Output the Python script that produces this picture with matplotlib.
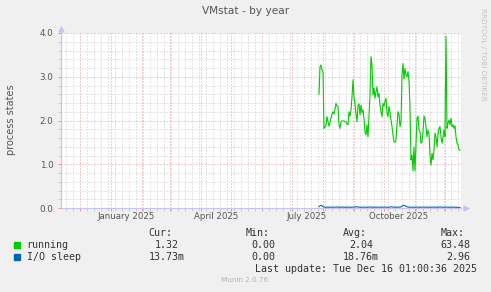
import matplotlib
matplotlib.use('Agg')
import matplotlib.pyplot as plt
import matplotlib.dates as mdates
from matplotlib.ticker import MultipleLocator, NullFormatter, FormatStrFormatter
from matplotlib.patches import Rectangle
import pandas as pd

W, H = 491, 292  # output size in px

# daily averages, first value on start_date
start_date = '2025-07-28'
running = [2.60, 3.23, 3.27, 3.15, 3.12, 1.82, 1.85, 1.90, 2.09, 1.97,
           1.87, 1.95, 2.05, 2.15, 2.20, 2.15, 2.25, 2.39, 2.33, 2.32,
           1.90, 1.82, 1.97, 1.99, 1.99, 1.99, 1.97, 1.97, 1.92, 1.90,
           2.20, 2.10, 2.24, 2.55, 2.93, 2.51, 2.39, 2.16, 1.97, 2.35,
           2.38, 2.13, 2.35, 2.18, 2.24, 2.05, 1.74, 1.67, 1.90, 1.63,
           2.13, 2.58, 3.46, 3.27, 2.58, 2.74, 2.51, 2.66, 2.77, 2.54,
           2.62, 2.35, 2.20, 2.09, 2.39, 2.33, 2.43, 2.51, 2.16, 2.09,
           2.32, 2.20, 2.01, 1.86, 1.67, 1.52, 1.50, 1.55, 1.90, 2.20,
           2.15, 1.86, 1.95, 3.04, 3.30, 2.95, 3.19, 3.04, 3.00, 3.12,
           2.90, 2.30, 1.10, 1.21, 0.85, 1.40, 0.85, 1.45, 2.05, 2.10,
           1.80, 1.75, 1.48, 1.50, 1.75, 2.10, 2.05, 1.86, 1.63, 1.78,
           1.70, 1.21, 0.98, 1.25, 1.10, 1.33, 1.71, 1.63, 1.40, 1.70,
           1.82, 1.86, 1.63, 1.48, 1.63, 1.78, 1.63, 3.92, 1.82, 1.94,
           2.01, 1.90, 2.05, 1.86, 1.90, 1.82, 1.88, 1.63, 1.48, 1.45,
           1.33, 1.32]
io_sleep = [0.03, 0.05, 0.06, 0.05, 0.03, 0.02, 0.02, 0.015, 0.02, 0.02,
            0.015, 0.02, 0.02, 0.02, 0.015, 0.02, 0.02, 0.02, 0.025, 0.02,
            0.02, 0.015, 0.02, 0.02, 0.02, 0.02, 0.015, 0.02, 0.02, 0.02,
            0.02, 0.02, 0.015, 0.02, 0.02, 0.02, 0.02, 0.03, 0.03, 0.02,
            0.02, 0.02, 0.015, 0.02, 0.02, 0.02, 0.02, 0.02, 0.015, 0.02,
            0.02, 0.02, 0.025, 0.02, 0.02, 0.015, 0.02, 0.02, 0.02, 0.02,
            0.02, 0.02, 0.015, 0.02, 0.02, 0.02, 0.02, 0.02, 0.02, 0.015,
            0.02, 0.02, 0.03, 0.025, 0.02, 0.02, 0.02, 0.015, 0.02, 0.02,
            0.02, 0.02, 0.025, 0.04, 0.06, 0.06, 0.05, 0.04, 0.03, 0.02,
            0.02, 0.02, 0.015, 0.02, 0.02, 0.02, 0.015, 0.02, 0.02, 0.02,
            0.02, 0.015, 0.02, 0.02, 0.02, 0.02, 0.02, 0.015, 0.02, 0.02,
            0.02, 0.02, 0.015, 0.02, 0.02, 0.02, 0.02, 0.02, 0.015, 0.02,
            0.02, 0.025, 0.02, 0.02, 0.02, 0.015, 0.02, 0.02, 0.02, 0.02,
            0.015, 0.02, 0.02, 0.02, 0.02, 0.015, 0.02, 0.02, 0.015, 0.015,
            0.014, 0.014]

x_start = '2024-11-12'
x_end = '2025-12-17'
quarter_labels = ['January 2025', 'April 2025', 'July 2025', 'October 2025']
quarter_dates = ['2025-01-16', '2025-04-16', '2025-07-16', '2025-10-16']

series_names = ['running', 'I/O sleep']
series_colors = ['#00CC00', '#0066B3']
cur_vals = ['1.32', '13.73m']
min_vals = ['0.00', '0.00']
avg_vals = ['2.04', '18.76m']
max_vals = ['63.48', '2.96']


def fx(px):
    return px / W


def fy(py):
    return 1 - py / H


days = pd.date_range(start_date, periods=len(running), freq='D')

fig = plt.figure(figsize=(W / 100, H / 100), dpi=100, facecolor='#F0F0F0')
ax = fig.add_axes([fx(61), fy(208), 400 / W, 175 / H])
ax.set_facecolor('white')

ax.plot(days, running, color=series_colors[0], lw=0.8, zorder=3)
ax.plot(days, io_sleep, color=series_colors[1], lw=0.8, zorder=3)

ax.set_xlim(pd.Timestamp(x_start), pd.Timestamp(x_end))
ax.set_ylim(0, 4)

ax.xaxis.set_major_locator(mdates.MonthLocator())
ax.xaxis.set_minor_locator(mdates.WeekdayLocator(byweekday=mdates.SU))
ax.xaxis.set_major_formatter(NullFormatter())
ax.yaxis.set_major_locator(MultipleLocator(1))
ax.yaxis.set_minor_locator(MultipleLocator(0.2))
ax.yaxis.set_major_formatter(FormatStrFormatter('%.1f'))

ax.grid(which='minor', color='#CCCCCC', ls=(0, (1, 2)), lw=0.72)
ax.grid(which='major', color='#E89A9A', ls=(0, (1, 2)), lw=0.72)
ax.set_axisbelow(True)

ax.tick_params(which='major', length=2, width=0.72, color='#E89A9A',
               labelsize=6.3, labelcolor='#555555', pad=3.5)
ax.tick_params(which='minor', length=2, width=0.72, color='#CCCCCC')

for s in ['top', 'right']:
    ax.spines[s].set_visible(False)
for s in ['left', 'bottom']:
    ax.spines[s].set_color('#C4C4F2')
    ax.spines[s].set_linewidth(0.8)

# little arrows at the axis ends
ax.plot([0], [1 + 4 / 175], marker='^', ms=3.5, color='#C4C4F2',
        transform=ax.transAxes, clip_on=False)
ax.plot([1 + 4.5 / 400], [0], marker='>', ms=3.5, color='#C4C4F2',
        transform=ax.transAxes, clip_on=False)

for lab, d in zip(quarter_labels, quarter_dates):
    ax.text(pd.Timestamp(d), -8.5 / 175, lab, ha='center', va='center',
            fontsize=6.2, color='#555555',
            transform=ax.get_xaxis_transform())

fig.text(fx(245.5), fy(11), 'VMstat - by year', ha='center', va='center',
         fontsize=7.6, color='#555555')
fig.text(fx(11.5), fy(120), 'process states', ha='center', va='center',
         rotation=90, fontsize=7, color='#555555')
fig.text(fx(483), fy(54), 'RRDTOOL / TOBI OETIKER', ha='center', va='center',
         rotation=270, fontsize=5.2, color='#C4C4C4')

# legend block (monospaced like rrdtool)
mono = 'DejaVu Sans Mono'
lc = '#333333'
lfs = 7.2
col_edges = [184.3, 281.3, 379.0, 476.7]
headers = ['Cur:', 'Min:', 'Avg:', 'Max:']
for e, h in zip(col_edges, headers):
    fig.text(fx(e - 12), fy(232.7), h, ha='right', va='center',
             family=mono, fontsize=lfs, color=lc)

row_y = [245, 257]
for i in range(len(series_names)):
    y = row_y[i]
    fig.patches.append(Rectangle((fx(14), fy(y + 3)), 6 / W, 6 / H,
                                 transform=fig.transFigure,
                                 color=series_colors[i]))
    fig.text(fx(26.7), fy(y), series_names[i], ha='left', va='center',
             family=mono, fontsize=lfs, color=lc)
    vals = [cur_vals[i], min_vals[i], avg_vals[i], max_vals[i]]
    for e, v in zip(col_edges, vals):
        edge = e if v.endswith('m') else e - 6
        fig.text(fx(edge), fy(y), v, ha='right', va='center',
                 family=mono, fontsize=lfs, color=lc)

fig.text(fx(476.7), fy(268.7), 'Last update: Tue Dec 16 01:00:36 2025',
         ha='right', va='center', family=mono, fontsize=lfs, color=lc)
fig.text(fx(245), fy(280), 'Munin 2.0.76', ha='center', va='center',
         fontsize=5.2, color='#B4B4B4')

fig.savefig('out.png', dpi=100, facecolor=fig.get_facecolor())
